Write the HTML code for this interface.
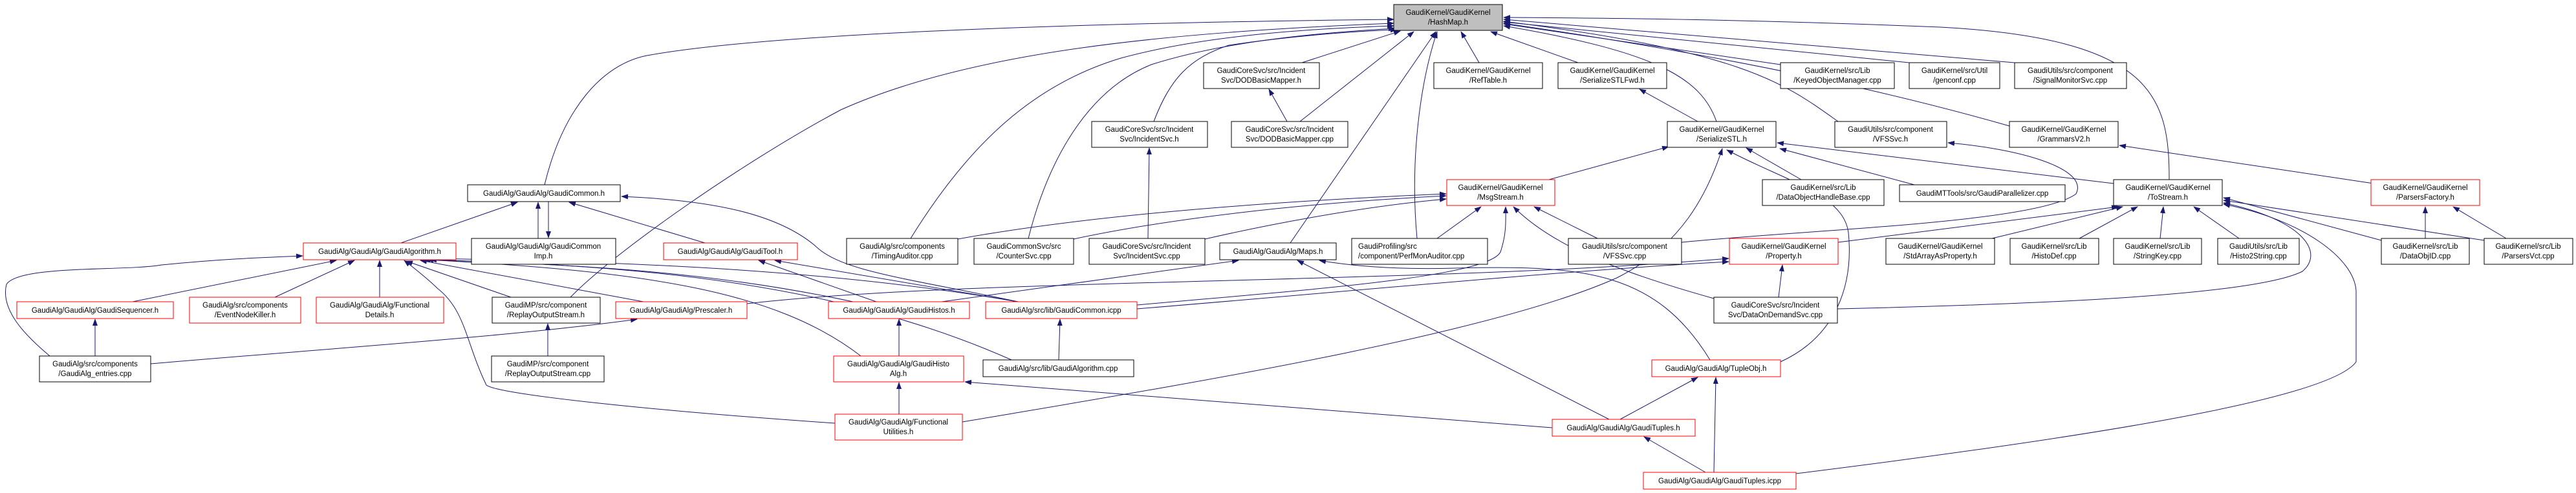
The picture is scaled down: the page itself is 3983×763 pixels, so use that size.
<!DOCTYPE html>
<html><head><meta charset="utf-8"><style>
html,body{margin:0;padding:0;background:#fff;}
svg{display:block;}
text{font-family:"Liberation Sans",Arial,sans-serif;font-size:11.5px;fill:#000;text-anchor:middle;}
.e{fill:none;stroke:#191970;stroke-width:1;marker-end:url(#a);}
.n{fill:#fff;stroke:#000;stroke-width:1;}
.r{fill:#fff;stroke:#ff0000;stroke-width:1;}
</style></head><body>
<svg width="3983" height="763" viewBox="0 0 3983 763" xmlns="http://www.w3.org/2000/svg">
<defs><marker id="a" markerWidth="11" markerHeight="8" refX="10" refY="4" orient="auto" markerUnits="userSpaceOnUse"><path d="M0,0 L11,4 L0,8 z" fill="#191970"/></marker></defs>
<g>
<!-- HashMap incoming -->
<path class="e" d="M842,286 C870,170 930,100 1000,86 C1200,50 1700,35 2155,30"/>
<path class="e" d="M882,460 C950,390 1150,250 1300,170 C1500,80 1800,50 2155,36"/>
<path class="e" d="M1408,369 C1500,220 1600,130 1733,90 C1850,58 2000,45 2155,40"/>
<path class="e" d="M1590,369 C1620,250 1680,140 1780,100 C1900,62 2050,50 2157,44"/>
<path class="e" d="M1784,188 C1810,120 1840,90 1900,70 C2000,55 2100,48 2160,46"/>
<path class="e" d="M2013,97 L2165,48"/>
<path class="e" d="M2010,188 L2186,49"/>
<path class="e" d="M1995,376 L2220,49"/>
<path class="e" d="M2191,369 C2180,250 2195,130 2222,49"/>
<path class="e" d="M2287,97 L2259,49"/>
<path class="e" d="M2440,97 L2305,49"/>
<path class="e" d="M2654,188 C2630,120 2560,80 2325,40"/>
<path class="e" d="M2753,100 L2325,37"/>
<path class="e" d="M2952,97 L2325,34"/>
<path class="e" d="M3115,97 L2325,30"/>
<path class="e" d="M2842,188 C2760,130 2700,80 2325,33"/>
<path class="e" d="M3107,195 C2950,150 2700,90 2325,36"/>
<path class="e" d="M3354,278 C3354,150 3330,60 3000,42 C2700,30 2500,28 2325,27"/>
<!-- second level -->
<path class="e" d="M1990,188 L1962,138"/>
<path class="e" d="M1775,369 L1777,229"/>
<path class="e" d="M2625,188 L2535,138"/>
<path class="e" d="M2395,278 L2580,227"/>
<path class="e" d="M2785,278 L2700,229"/>
<path class="e" d="M2960,286 L2752,230"/>
<path class="e" d="M3268,284 L2748,221"/>
<path class="e" d="M2600,375 C2800,355 3150,345 3210,300 C3230,260 3120,230 3012,221"/>
<path class="e" d="M2842,375 L3275,320"/>
<path class="e" d="M3080,369 L3282,320"/>
<path class="e" d="M3215,369 L3305,320"/>
<path class="e" d="M3340,369 L3345,320"/>
<path class="e" d="M3462,369 L3392,320"/>
<path class="e" d="M3682,372 L3438,306"/>
<path class="e" d="M3841,372 L3438,310"/>
<path class="e" d="M2841,478 C3100,472 3480,460 3560,420 C3595,390 3560,340 3438,314"/>
<path class="e" d="M2777,733 C3200,680 3600,620 3643,560 L3643,450 C3640,400 3560,340 3438,316"/>
<path class="e" d="M3750,369 L3750,320"/>
<path class="e" d="M3875,369 L3793,320"/>
<path class="e" d="M3670,284 L3277,225"/>
<!-- MsgStream incoming -->
<path class="e" d="M1481,370 C1700,330 2000,310 2236,300"/>
<path class="e" d="M1660,370 C1800,340 2000,315 2236,303"/>
<path class="e" d="M1863,370 C1950,350 2100,320 2236,308"/>
<path class="e" d="M2222,369 L2290,320"/>
<path class="e" d="M2470,369 L2372,320"/>
<path class="e" d="M2650,462 C2500,420 2400,380 2340,320"/>
<path class="e" d="M1758,472 C2000,450 2300,430 2320,390 C2330,360 2328,340 2328,320"/>
<!-- GaudiAlgorithm etc -->
<path class="e" d="M1319,467 C1100,420 900,410 665,402"/>
<path class="e" d="M1331,551 C1200,450 1000,420 660,402"/>
<path class="e" d="M1564,557 C1300,440 1000,410 655,402"/>
<path class="e" d="M1574,467 C1300,420 1000,405 660,400"/>
<path class="e" d="M1758,478 C2100,450 2400,420 2673,405"/>
<path class="e" d="M1155,470 C1500,430 2200,440 2673,400"/>
<path class="e" d="M205,467 L520,403"/>
<path class="e" d="M425,460 L548,403"/>
<path class="e" d="M587,460 L587,403"/>
<path class="e" d="M790,460 L628,404"/>
<path class="e" d="M995,467 L650,403"/>
<path class="e" d="M77,551 C40,520 0,480 10,440 C30,410 191,420 250,410 C350,400 420,398 468,396"/>
<path class="e" d="M1291,655 C1000,635 770,610 752,596 C720,530 720,480 676,446 C660,430 640,415 625,403"/>
<path class="e" d="M620,376 L800,313"/>
<path class="e" d="M832,369 L832,313"/>
<path class="e" d="M848,312 L848,368"/>
<path class="e" d="M1090,376 L880,313"/>
<path class="e" d="M1574,467 C1400,430 1300,420 1260,380 C1200,330 1100,310 961,304"/>
<path class="e" d="M1355,467 L1173,403"/>
<path class="e" d="M1574,467 L1198,403"/>
<path class="e" d="M1390,551 L1390,494"/>
<path class="e" d="M1637,557 L1639,494"/>
<path class="e" d="M1390,641 L1390,592"/>
<path class="e" d="M2400,662 L1492,591"/>
<path class="e" d="M1488,653 C1800,600 2300,520 2500,430 C2600,380 2640,300 2663,230"/>
<path class="e" d="M2753,560 C2840,520 2866,440 2858,360 C2850,300 2760,280 2670,232"/>
<path class="e" d="M2505,649 L2625,584"/>
<path class="e" d="M2650,731 L2653,584"/>
<path class="e" d="M2637,731 L2542,676"/>
<path class="e" d="M2488,649 L2006,403"/>
<path class="e" d="M2644,557 C2560,420 2450,410 2250,415 C2150,418 2080,410 2040,403"/>
<path class="e" d="M1456,467 L1915,403"/>
<path class="e" d="M233,563 C500,540 800,520 985,494"/>
<path class="e" d="M147,551 L147,494"/>
<path class="e" d="M847,551 L847,501"/>
<path class="e" d="M2750,460 L2756,410"/>
</g>
<g>
<rect class="n" x="2155" y="7" width="168" height="40" style="fill:#bfbfbf"/><text x="2239" y="23">GaudiKernel/GaudiKernel</text><text x="2239" y="38">/HashMap.h</text>
<rect class="n" x="1861" y="97" width="179" height="40"/><text x="1950" y="113">GaudiCoreSvc/src/Incident</text><text x="1950" y="128">Svc/DODBasicMapper.h</text>
<rect class="n" x="2217" y="97" width="168" height="40"/><text x="2301" y="113">GaudiKernel/GaudiKernel</text><text x="2301" y="128">/RefTable.h</text>
<rect class="n" x="2409" y="97" width="168" height="40"/><text x="2493" y="113">GaudiKernel/GaudiKernel</text><text x="2493" y="128">/SerializeSTLFwd.h</text>
<rect class="n" x="2753" y="97" width="176" height="40"/><text x="2841" y="113">GaudiKernel/src/Lib</text><text x="2841" y="128">/KeyedObjectManager.cpp</text>
<rect class="n" x="2952" y="97" width="140" height="40"/><text x="3022" y="113">GaudiKernel/src/Util</text><text x="3022" y="128">/genconf.cpp</text>
<rect class="n" x="3115" y="97" width="173" height="40"/><text x="3201" y="113">GaudiUtils/src/component</text><text x="3201" y="128">/SignalMonitorSvc.cpp</text>
<rect class="n" x="1688" y="188" width="179" height="40"/><text x="1777" y="204">GaudiCoreSvc/src/Incident</text><text x="1777" y="219">Svc/IncidentSvc.h</text>
<rect class="n" x="1904" y="188" width="180" height="40"/><text x="1994" y="204">GaudiCoreSvc/src/Incident</text><text x="1994" y="219">Svc/DODBasicMapper.cpp</text>
<rect class="n" x="2578" y="188" width="168" height="40"/><text x="2662" y="204">GaudiKernel/GaudiKernel</text><text x="2662" y="219">/SerializeSTL.h</text>
<rect class="n" x="2837" y="188" width="173" height="40"/><text x="2923" y="204">GaudiUtils/src/component</text><text x="2923" y="219">/VFSSvc.h</text>
<rect class="n" x="3107" y="188" width="168" height="40"/><text x="3191" y="204">GaudiKernel/GaudiKernel</text><text x="3191" y="219">/GrammarsV2.h</text>
<rect class="n" x="723" y="286" width="236" height="26"/><text x="841" y="303">GaudiAlg/GaudiAlg/GaudiCommon.h</text>
<rect class="r" x="2237" y="278" width="167" height="40"/><text x="2320" y="294">GaudiKernel/GaudiKernel</text><text x="2320" y="309">/MsgStream.h</text>
<rect class="n" x="2725" y="278" width="188" height="40"/><text x="2819" y="294">GaudiKernel/src/Lib</text><text x="2819" y="309">/DataObjectHandleBase.cpp</text>
<rect class="n" x="2937" y="286" width="256" height="26"/><text x="3065" y="303">GaudiMTTools/src/GaudiParallelizer.cpp</text>
<rect class="n" x="3268" y="278" width="168" height="40"/><text x="3352" y="294">GaudiKernel/GaudiKernel</text><text x="3352" y="309">/ToStream.h</text>
<rect class="r" x="3666" y="278" width="168" height="40"/><text x="3750" y="294">GaudiKernel/GaudiKernel</text><text x="3750" y="309">/ParsersFactory.h</text>
<rect class="r" x="469" y="376" width="236" height="26"/><text x="587" y="393">GaudiAlg/GaudiAlg/GaudiAlgorithm.h</text>
<rect class="n" x="729" y="369" width="223" height="40"/><text x="840" y="385">GaudiAlg/GaudiAlg/GaudiCommon</text><text x="840" y="400">Imp.h</text>
<rect class="r" x="1026" y="376" width="207" height="26"/><text x="1129" y="393">GaudiAlg/GaudiAlg/GaudiTool.h</text>
<rect class="n" x="1309" y="369" width="172" height="40"/><text x="1395" y="385">GaudiAlg/src/components</text><text x="1395" y="400">/TimingAuditor.cpp</text>
<rect class="n" x="1506" y="369" width="154" height="40"/><text x="1583" y="385">GaudiCommonSvc/src</text><text x="1583" y="400">/CounterSvc.cpp</text>
<rect class="n" x="1684" y="369" width="179" height="40"/><text x="1773" y="385">GaudiCoreSvc/src/Incident</text><text x="1773" y="400">Svc/IncidentSvc.cpp</text>
<rect class="n" x="1886" y="376" width="180" height="26"/><text x="1976" y="393">GaudiAlg/GaudiAlg/Maps.h</text>
<rect class="n" x="2090" y="369" width="210" height="40"/><text x="2100" y="385" style="text-anchor:start">GaudiProfiling/src</text><text x="2100" y="400" style="text-anchor:start">/component/PerfMonAuditor.cpp</text>
<rect class="n" x="2425" y="369" width="175" height="40"/><text x="2512" y="385">GaudiUtils/src/component</text><text x="2512" y="400">/VFSSvc.cpp</text>
<rect class="r" x="2674" y="369" width="168" height="40"/><text x="2758" y="385">GaudiKernel/GaudiKernel</text><text x="2758" y="400">/Property.h</text>
<rect class="n" x="2916" y="369" width="168" height="40"/><text x="3000" y="385">GaudiKernel/GaudiKernel</text><text x="3000" y="400">/StdArrayAsProperty.h</text>
<rect class="n" x="3108" y="369" width="137" height="40"/><text x="3176" y="385">GaudiKernel/src/Lib</text><text x="3176" y="400">/HistoDef.cpp</text>
<rect class="n" x="3268" y="369" width="136" height="40"/><text x="3336" y="385">GaudiKernel/src/Lib</text><text x="3336" y="400">/StringKey.cpp</text>
<rect class="n" x="3429" y="369" width="126" height="40"/><text x="3492" y="385">GaudiUtils/src/Lib</text><text x="3492" y="400">/Histo2String.cpp</text>
<rect class="n" x="3682" y="369" width="136" height="40"/><text x="3750" y="385">GaudiKernel/src/Lib</text><text x="3750" y="400">/DataObjID.cpp</text>
<rect class="n" x="3841" y="369" width="137" height="40"/><text x="3909" y="385">GaudiKernel/src/Lib</text><text x="3909" y="400">/ParsersVct.cpp</text>
<rect class="r" x="26" y="467" width="242" height="26"/><text x="147" y="484">GaudiAlg/GaudiAlg/GaudiSequencer.h</text>
<rect class="r" x="293" y="460" width="172" height="40"/><text x="379" y="476">GaudiAlg/src/components</text><text x="379" y="491">/EventNodeKiller.h</text>
<rect class="r" x="489" y="460" width="197" height="40"/><text x="587" y="476">GaudiAlg/GaudiAlg/Functional</text><text x="587" y="491">Details.h</text>
<rect class="n" x="761" y="460" width="167" height="40"/><text x="844" y="476">GaudiMP/src/component</text><text x="844" y="491">/ReplayOutputStream.h</text>
<rect class="r" x="952" y="467" width="203" height="26"/><text x="1053" y="484">GaudiAlg/GaudiAlg/Prescaler.h</text>
<rect class="r" x="1281" y="467" width="218" height="26"/><text x="1390" y="484">GaudiAlg/GaudiAlg/GaudiHistos.h</text>
<rect class="r" x="1524" y="467" width="234" height="26"/><text x="1641" y="484">GaudiAlg/src/lib/GaudiCommon.icpp</text>
<rect class="n" x="2650" y="460" width="191" height="40"/><text x="2745" y="476">GaudiCoreSvc/src/Incident</text><text x="2745" y="491">Svc/DataOnDemandSvc.cpp</text>
<rect class="n" x="61" y="551" width="172" height="40"/><text x="147" y="567">GaudiAlg/src/components</text><text x="147" y="582">/GaudiAlg_entries.cpp</text>
<rect class="n" x="760" y="551" width="174" height="40"/><text x="847" y="567">GaudiMP/src/component</text><text x="847" y="582">/ReplayOutputStream.cpp</text>
<rect class="r" x="1289" y="551" width="201" height="40"/><text x="1389" y="567">GaudiAlg/GaudiAlg/GaudiHisto</text><text x="1389" y="582">Alg.h</text>
<rect class="n" x="1520" y="557" width="233" height="26"/><text x="1636" y="574">GaudiAlg/src/lib/GaudiAlgorithm.cpp</text>
<rect class="r" x="2554" y="557" width="199" height="26"/><text x="2653" y="574">GaudiAlg/GaudiAlg/TupleObj.h</text>
<rect class="r" x="1291" y="641" width="197" height="40"/><text x="1389" y="657">GaudiAlg/GaudiAlg/Functional</text><text x="1389" y="672">Utilities.h</text>
<rect class="r" x="2400" y="649" width="221" height="26"/><text x="2510" y="666">GaudiAlg/GaudiAlg/GaudiTuples.h</text>
<rect class="r" x="2541" y="731" width="236" height="26"/><text x="2659" y="748">GaudiAlg/GaudiAlg/GaudiTuples.icpp</text>
</g>
</svg>
</body></html>
